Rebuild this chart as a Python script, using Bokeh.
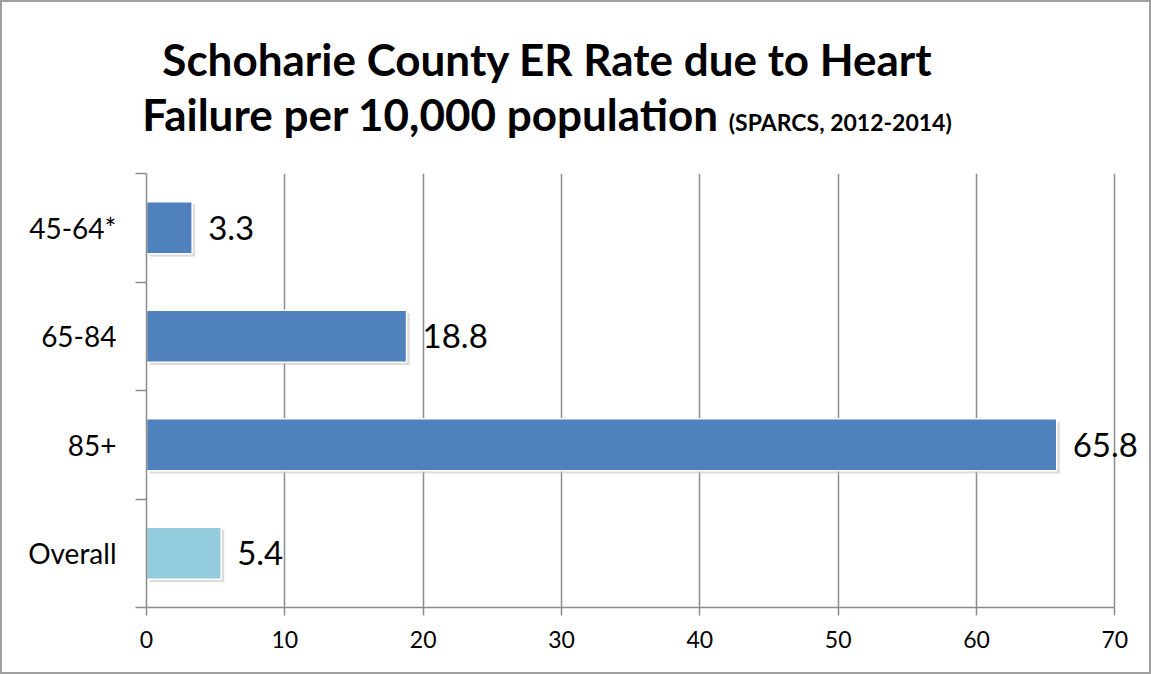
from bokeh.plotting import figure
from bokeh.models import (FactorRange, Range1d, LinearAxis, CategoricalAxis, FixedTicker,
                          ColumnDataSource, LabelSet, Div)
from bokeh.layouts import column
from bokeh.core.properties import value
from bokeh.transform import dodge
from bokeh.embed import file_html
from bokeh.resources import INLINE

categories = ["45-64*", "65-84", "85+", "Overall"]
values = [3.3, 18.8, 65.8, 5.4]
bar_colors = ["#4F81BD", "#4F81BD", "#4F81BD", "#93CDDD"]
value_labels = ["3.3", "18.8", "65.8", "5.4"]
x_ticks = [0, 10, 20, 30, 40, 50, 60, 70]

title_line1 = "Schoharie County ER Rate due to Heart"
title_line2 = "Failure per 10,000 population"
title_source = "(SPARCS, 2012-2014)"

FONT = "Lato"
GRID = "#8C8C8C"
W = 1147
DIV_W = 1090
DIV_H = 150
H = 670 - DIV_H
ML, MR, MT, MB = 144, 7, 21, 65

src = ColumnDataSource(dict(cat=categories, val=values, color=bar_colors, lab=value_labels))

title_div = Div(
    text=(f'<div style="width:{DIV_W}px;font-family:{FONT};font-weight:bold;font-size:44px;'
          f'line-height:55px;text-align:center;color:black;padding-top:30px;">'
          f'{title_line1}<br>{title_line2} '
          f'<span style="font-size:23px;line-height:1;">{title_source}</span></div>'),
    width=DIV_W, height=DIV_H, margin=0)

p = figure(width=W, height=H, output_backend="svg", toolbar_location=None,
           y_range=FactorRange(factors=list(reversed(categories)), range_padding=0),
           x_range=Range1d(0, 72), x_axis_location=None, y_axis_location=None,
           min_border_left=ML, min_border_right=MR, min_border_top=MT, min_border_bottom=MB,
           margin=0)
p.outline_line_color = None
p.background_fill_color = "white"
p.border_fill_color = "white"
p.ygrid.visible = False

# x axis (line limited to 0..70)
xa = LinearAxis(ticker=FixedTicker(ticks=x_ticks), bounds=(0, 70))
xa.axis_line_color = GRID
xa.axis_line_width = 1.5
xa.major_tick_line_color = GRID
xa.major_tick_line_width = 1.5
xa.major_tick_out = 8
xa.major_tick_in = 0
xa.minor_tick_line_color = None
xa.major_label_text_font = FONT
xa.major_label_text_font_size = "23px"
xa.major_label_text_color = "black"
xa.major_label_standoff = 15
p.add_layout(xa, "below")

# y boundary ticks axis (category band edges in synthetic coordinates)
edge_ticks = list(range(len(categories) + 1))
ta = LinearAxis(ticker=FixedTicker(ticks=edge_ticks))
ta.axis_line_color = GRID
ta.axis_line_width = 1.5
ta.major_tick_line_color = GRID
ta.major_tick_line_width = 1.5
ta.major_tick_out = 11
ta.major_tick_in = 0
ta.minor_tick_line_color = None
ta.major_label_overrides = {t: "" for t in edge_ticks}
ta.major_label_text_font_size = "1px"
ta.major_label_standoff = 0
p.add_layout(ta, "left")

# category label axis
ca = CategoricalAxis()
ca.axis_line_color = None
ca.major_tick_line_color = None
ca.major_tick_out = 0
ca.major_tick_in = 0
ca.major_label_text_font = FONT
ca.major_label_text_font_size = "28px"
ca.major_label_text_color = "black"
ca.major_label_standoff = 19
p.add_layout(ca, "left")

p.xgrid.ticker = FixedTicker(ticks=x_ticks)
p.xgrid.grid_line_color = GRID
p.xgrid.grid_line_width = 1.5

# soft shadow under bars
p.hbar(y=dodge("cat", -0.025, range=p.y_range), right=dodge("val", 0.22), left=0.22,
       height=0.48, fill_color="#BFBFBF", fill_alpha=0.55, line_color=None, source=src)

p.hbar(y="cat", right="val", left=0, height=0.48, fill_color="color",
       line_color="white", line_width=1.5, source=src)

p.add_layout(LabelSet(x="val", y="cat", text="lab", source=src, x_offset=16,
                      text_font=value(FONT), text_font_size=value("33px"), text_color="black",
                      text_baseline="middle", text_align="left"))

layout = column(title_div, p, styles={"border": "2px solid #A0A0A0", "background": "white"},
                spacing=0)

open("out.html", "w").write(file_html(layout, INLINE))
